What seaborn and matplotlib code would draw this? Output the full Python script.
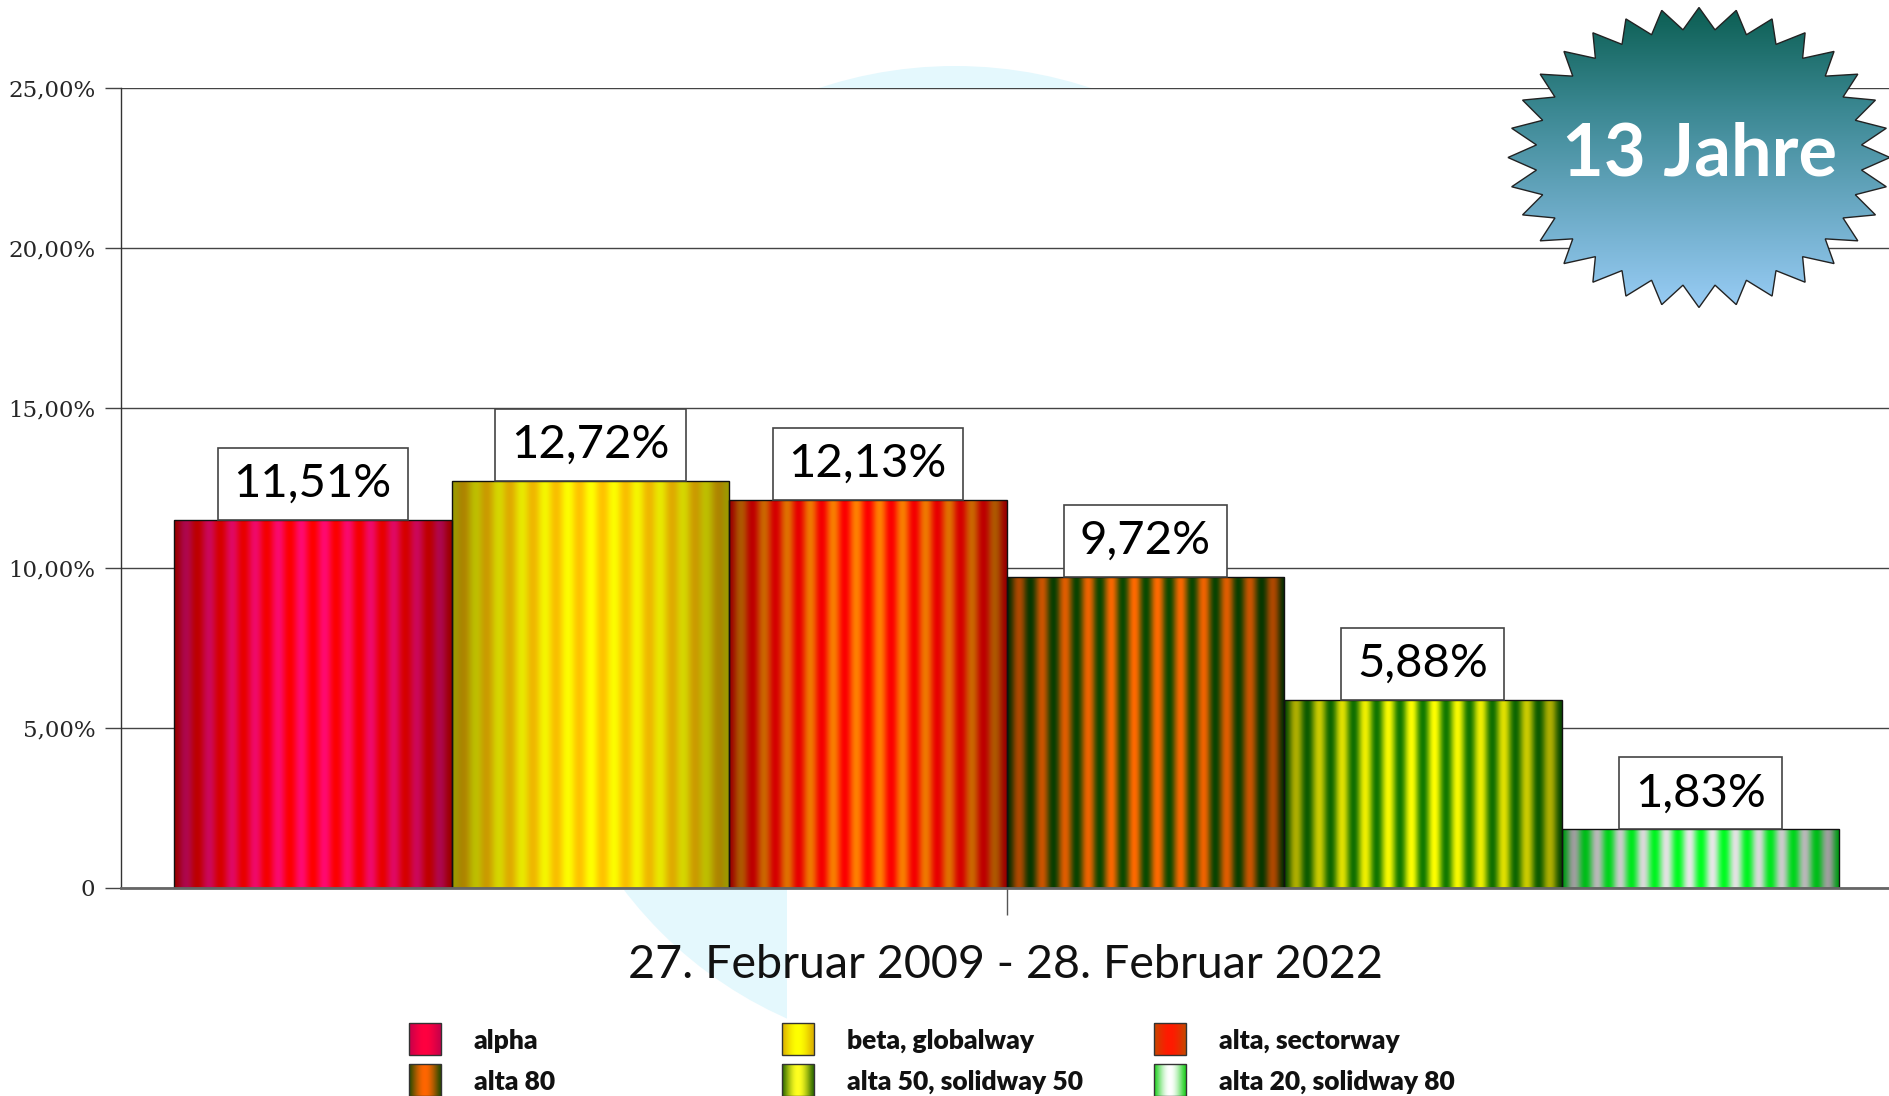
import numpy as np
import matplotlib
matplotlib.use("Agg")
import matplotlib.pyplot as plt
from matplotlib.patches import Rectangle, Circle, Polygon
from matplotlib.colors import to_rgb, LinearSegmentedColormap
import seaborn as sns

# =========================
# DATA
# =========================

categories = ["alpha", "beta, globalway", "alta, sectorway",
              "alta 80", "alta 50, solidway 50", "alta 20, solidway 80"]
values = [11.51, 12.72, 12.13, 9.72, 5.88, 1.83]
yticks = [0, 5, 10, 15, 20, 25]
ytick_labels = ["0", "5,00%", "10,00%", "15,00%", "20,00%", "25,00%"]
period_label = "27. Februar 2009 - 28. Februar 2022"
badge_label = "13 Jahre"

# stripe colours per bar: (stripe a, stripe b)
bar_stripes = [("#ff0000", "#ff0a70"),
               ("#ffff00", "#ffc400"),
               ("#ff0000", "#ff8000"),
               ("#0a4a00", "#ff6a00"),
               ("#117a00", "#ffff00"),
               ("#00ff22", "#e8e8e8")]
# legend swatch gradients: (edge, centre)
legend_grad = [("#c8004a", "#ff0040"),
               ("#dcb000", "#ffff00"),
               ("#c84800", "#ff1a00"),
               ("#2a4a00", "#ff6600"),
               ("#2f6a00", "#ffff20"),
               ("#20d020", "#ffffff")]

W, H = 1889, 1096


def stripe_img(ca, cb, n=12, w=500, lo=0.58):
    t = np.linspace(0, 1, w)
    s = 0.5 + 0.5 * np.cos(2 * np.pi * n * (t - 0.5))
    a, b = np.array(to_rgb(ca)), np.array(to_rgb(cb))
    base = a[None, :] * s[:, None] + b[None, :] * (1 - s[:, None])
    env = np.sin(np.pi * t) ** 0.7
    img = base * (lo + (1 - lo) * env)[:, None]
    return img[None, :, :]


def hgrad_img(ce, cc, w=60):
    t = np.linspace(0, 1, w)
    env = np.sin(np.pi * t) ** 1.2
    e, c = np.array(to_rgb(ce)), np.array(to_rgb(cc))
    img = e[None, :] * (1 - env[:, None]) + c[None, :] * env[:, None]
    return img[None, :, :]


# =========================
# FIGURE
# =========================

sns.set_theme(style="white")
plt.rcParams["font.family"] = ["Lato", "DejaVu Sans"]

fig = plt.figure(figsize=(W / 100, H / 100), dpi=100)
fig.patch.set_facecolor("white")

# background watermark (only visible outside the plot area)
bg = fig.add_axes([0, 0, 1, 1], zorder=-1)
bg.set_xlim(0, W)
bg.set_ylim(H, 0)
bg.axis("off")
wm = "#e4f8fd"
c1 = Circle((955, 497), 431, facecolor=wm, edgecolor="none")
bg.add_patch(c1)
c1.set_clip_path(Rectangle((0, 0), W, 88, transform=bg.transData))
c2 = Circle((955, 638), 416, facecolor=wm, edgecolor="none")
bg.add_patch(c2)
c2.set_clip_path(Rectangle((0, 888), 787, 300, transform=bg.transData))

# main axes
ax = fig.add_axes([121 / W, (H - 888) / H, (W - 121) / W, 800 / H], zorder=0)
ax.set_facecolor("white")

sns.barplot(x=categories, y=values, hue=categories,
            palette=[s[0] for s in bar_stripes], width=1.0, legend=False,
            edgecolor="#111111", linewidth=1.0, ax=ax, zorder=2)

for p, (ca, cb) in zip(ax.patches, bar_stripes):
    x0, w, h = p.get_x(), p.get_width(), p.get_height()
    im = ax.imshow(stripe_img(ca, cb), extent=(x0, x0 + w, 0, h),
                   aspect="auto", interpolation="bilinear", zorder=1.9)
    im.set_clip_path(p)
    p.set_facecolor("none")

ax.set_xlim(-0.691, 5.68)
ax.set_ylim(0, 25)

# value boxes, sized to the text
renderer = fig.canvas.get_renderer()
px_per_unit = ax.transData.transform((1, 0))[0] - ax.transData.transform((0, 0))[0]
for i, v in enumerate(values):
    t = ax.text(i, v + 1.125, f"{v:.2f}".replace(".", ",") + "%",
                ha="center", va="center", fontsize=34, color="black", zorder=5)
    tw = t.get_window_extent(renderer).width
    bw = (tw + 32) / px_per_unit
    ax.add_patch(Rectangle((i - bw / 2, v), bw, 2.25, facecolor="white",
                           edgecolor="#444444", lw=1.2, zorder=4))

ax.set_yticks(yticks)
ax.set_yticklabels(ytick_labels, family="DejaVu Serif", fontsize=16.5)
ax.set_xticks([2.5])
ax.set_xticklabels([""])
ax.tick_params(axis="y", length=11.5, width=1, color="#444444", pad=7,
               left=True, direction="out")
ax.tick_params(axis="x", length=19.5, width=1, color="#555555", bottom=True,
               direction="out")
ax.set_axisbelow(True)
ax.grid(axis="y", color="#444444", lw=1.0)
ax.grid(axis="x", visible=False)
for side in ["top", "right"]:
    ax.spines[side].set_visible(False)
ax.spines["left"].set_color("#333333")
ax.spines["left"].set_linewidth(1.0)
ax.spines["bottom"].set_color("#666666")
ax.spines["bottom"].set_linewidth(2.0)
ax.set_xlabel("")
ax.set_ylabel("")
ax.text(0.5, -0.1125, period_label, transform=ax.transAxes, ha="center",
        va="baseline", fontsize=33.6, color="#111111")

# overlay: badge and legend
ov = fig.add_axes([0, 0, 1, 1], zorder=5)
ov.axis("off")
ov.patch.set_alpha(0)

cx, cy, rx, ry = 1699, 157.5, 191, 150
ang = np.pi / 2 + np.arange(64) * np.pi / 32
rr = np.where(np.arange(64) % 2 == 0, 1.0, 0.855)
pts = np.column_stack([cx + rx * rr * np.cos(ang), cy - ry * rr * np.sin(ang)])
star = Polygon(pts, closed=True, facecolor="none", edgecolor="#222222",
               lw=1.0, zorder=3)
ov.add_patch(star)
cmap = LinearSegmentedColormap.from_list(
    "badge", ["#0b5e52", "#3a8791", "#6aa9c4", "#98ccf5"])
grad = np.linspace(0, 1, 256)[:, None]
im = ov.imshow(grad, cmap=cmap, extent=(cx - rx, cx + rx, cy + ry, cy - ry),
               aspect="auto", origin="upper", zorder=2)
im.set_clip_path(star)
ov.text(cx, 176, badge_label, ha="center", va="baseline", fontsize=52,
        fontweight="bold", color="white", zorder=4)

col_x = [409, 782, 1154]
row_y = [1023, 1064]
for i, (lab, (ce, cc)) in enumerate(zip(categories, legend_grad)):
    x, y = col_x[i % 3], row_y[i // 3]
    r = Rectangle((x, y), 32, 32, facecolor="none", edgecolor="#333333",
                  lw=1.0, zorder=3)
    ov.add_patch(r)
    g = ov.imshow(hgrad_img(ce, cc), extent=(x, x + 32, y + 32, y),
                  aspect="auto", interpolation="bilinear", zorder=2)
    g.set_clip_path(r)
    ov.text(x + 65, y + 26, lab, ha="left", va="baseline", fontsize=19,
            fontweight="heavy", color="#111111")
ov.set_xlim(0, W)
ov.set_ylim(H, 0)

fig.savefig("out.png", dpi=100)
